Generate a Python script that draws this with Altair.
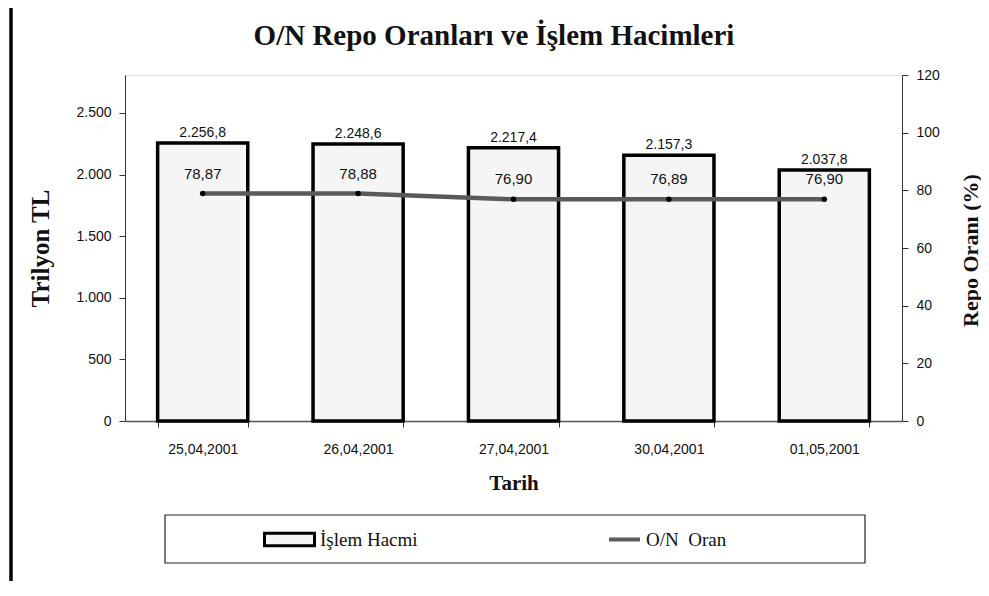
import altair as alt
import pandas as pd

# ---- data ----
dates = ["25,04,2001", "26,04,2001", "27,04,2001", "30,04,2001", "01,05,2001"]
volume = [2256.8, 2248.6, 2217.4, 2157.3, 2037.8]          # Trilyon TL
rate = [78.87, 78.88, 76.90, 76.89, 76.90]                  # %
left_ticks = [0, 500, 1000, 1500, 2000, 2500]
right_ticks = [0, 20, 40, 60, 80, 100, 120]
bar_name = "İşlem Hacmi"
line_name = "O/N\u00a0\u00a0Oran"
title_text = "O/N Repo Oranları ve İşlem Hacimleri"


def tr(v, d):
    s = f"{v:,.{d}f}"
    return s.replace(",", "X").replace(".", ",").replace("X", ".")


df = pd.DataFrame({
    "date": dates,
    "volume": volume,
    "rate": rate,
    "vol_label": [tr(v, 1) for v in volume],
    "rate_label": [tr(v, 2) for v in rate],
    "s_bar": [bar_name] * len(dates),
    "s_line": [line_name] * len(dates),
})

SANS = "Liberation Sans"
SERIF = "Liberation Serif"

x_enc = alt.X(
    "date:N", sort=dates, title="Tarih",
    scale=alt.Scale(paddingInner=0.42, paddingOuter=0.21),
    axis=alt.Axis(
        labelAngle=0, labelFont=SANS, labelFontSize=14, labelColor="#111",
        labelPadding=15, tickBand="extent", tickSize=6, tickColor="#333",
        domainColor="#555", domainWidth=1.5,
        titleFont=SERIF, titleFontSize=21, titleFontWeight="bold",
        titleColor="#111", titleY=62, titleBaseline="middle",
    ),
)

y_left = alt.Y(
    "volume:Q", title="Trilyon TL",
    scale=alt.Scale(domain=[0, 2808], nice=False, zero=True),
    axis=alt.Axis(
        values=left_ticks, grid=False,
        labelExpr="replace(format(datum.value, ','), ',', '.')",
        labelFont=SANS, labelFontSize=14, labelColor="#111", labelPadding=8,
        tickSize=6, tickColor="#333", domainColor="#333",
        titleFont=SERIF, titleFontSize=25, titleFontWeight="bold",
        titleColor="#111", titleX=-85, titleY=173, titleBaseline="middle",
        titleAngle=-90,
    ),
)

y_right = alt.Y(
    "rate:Q", title="Repo Oranı (%)",
    scale=alt.Scale(domain=[0, 120], nice=False),
    axis=alt.Axis(
        orient="right", values=right_ticks, grid=False,
        labelFont=SANS, labelFontSize=14, labelColor="#111", labelPadding=8,
        tickSize=6, tickColor="#333", domainColor="#333",
        titleFont=SERIF, titleFontSize=22, titleFontWeight="bold",
        titleColor="#111", titleX=68, titleY=175, titleBaseline="middle",
        titleAngle=-90,
    ),
)

base = alt.Chart(df)

bars = base.mark_bar(stroke="black", strokeWidth=3.5).encode(
    x=x_enc,
    y=y_left,
    fill=alt.Fill(
        "s_bar:N",
        scale=alt.Scale(domain=[bar_name], range=["#f5f5f5"]),
        legend=alt.Legend(
            orient="none", legendX=138, legendY=438, title=None, padding=0,
            symbolType="M-1,-0.25H1V0.25H-1Z", symbolSize=2500,
            symbolStrokeColor="black", symbolStrokeWidth=3,
            labelFont=SERIF, labelFontSize=19, labelColor="#111",
            labelOffset=4,
        ),
    ),
)

bar_text = base.mark_text(
    font=SANS, fontSize=14, color="#111", baseline="bottom", dy=-3
).encode(x=alt.X("date:N", sort=dates), y=alt.Y("volume:Q"), text="vol_label:N")

left_layer = alt.layer(bars, bar_text)

line = base.mark_line(strokeWidth=4.5, opacity=1).encode(
    x=alt.X("date:N", sort=dates),
    y=y_right,
    stroke=alt.Stroke(
        "s_line:N",
        scale=alt.Scale(domain=[line_name], range=["#5a5a5a"]),
        legend=alt.Legend(
            orient="none", legendX=482, legendY=447, title=None, padding=0,
            symbolType="stroke", symbolSize=961, symbolStrokeWidth=4,
            labelFont=SERIF, labelFontSize=19, labelColor="#111",
            labelOffset=4,
        ),
    ),
)

points = base.mark_circle(size=30, color="black", opacity=1).encode(
    x=alt.X("date:N", sort=dates), y=alt.Y("rate:Q")
)

rate_text = base.mark_text(
    font=SANS, fontSize=15, color="#111", baseline="middle", dy=-20
).encode(x=alt.X("date:N", sort=dates), y=alt.Y("rate:Q"), text="rate_label:N")

right_layer = alt.layer(line, points, rate_text)

one = alt.Chart(pd.DataFrame({"k": [0]}))

title_mark = one.mark_text(
    font=SERIF, fontSize=29, fontWeight="bold", color="#111",
    align="center", baseline="middle",
).encode(x=alt.value(369), y=alt.value(-39), text=alt.value(title_text))

legend_box = one.mark_rect(fill="none", stroke="#222", strokeWidth=1.2).encode(
    x=alt.value(40), x2=alt.value(740), y=alt.value(440), y2=alt.value(488)
)
frame_left = one.mark_rule(color="black", strokeWidth=3.5).encode(
    x=alt.value(-114), y=alt.value(-67), y2=alt.value(513)
)

chart = alt.layer(
    left_layer, right_layer, title_mark, legend_box, frame_left
).resolve_scale(
    y="independent", fill="independent", stroke="independent"
).properties(
    width=777,
    height=346,
    padding={"left": 117, "top": 67, "right": 79, "bottom": 160},
    autosize=alt.AutoSizeParams(type="none"),
).configure_view(stroke=None).configure_legend(
    labelFont=SERIF
).configure(background="white")

chart.save("out.html", embed_options={"renderer": "svg", "actions": False})
